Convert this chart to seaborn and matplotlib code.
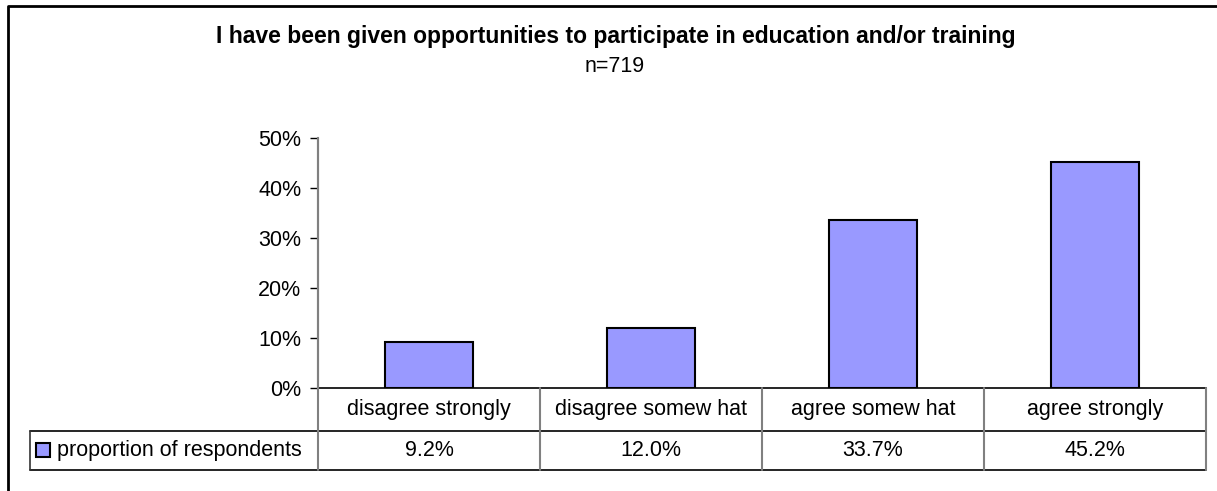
import matplotlib
matplotlib.use("Agg")
import matplotlib.pyplot as plt
from matplotlib.lines import Line2D
from matplotlib.patches import Rectangle
from matplotlib.ticker import PercentFormatter
import seaborn as sns
import pandas as pd

# Survey responses
categories = ["disagree strongly", "disagree somew hat", "agree somew hat", "agree strongly"]
proportions = [9.2, 12.0, 33.7, 45.2]
series_name = "proportion of respondents"
title = "I have been given opportunities to participate in education and/or training"
subtitle = "n=719"
y_ticks = [0, 10, 20, 30, 40, 50]

sns.set_theme(style="white")
plt.rcParams["font.family"] = ["Liberation Sans", "DejaVu Sans"]

W, H = 1217, 491
fig = plt.figure(figsize=(W / 100, H / 100), dpi=100)
fig.patch.set_facecolor("white")

def fx(px):
    return px / W

def fy(py):
    return 1 - py / H

bar_color = "#9999ff"
grid_gray = "#808080"
label_size = 15.5

# Plot area: 0% at y=388, 50% at y=138, spanning x=318..1206
x0, x1 = 318, 1206
y0, y50 = 388, 138
ax = fig.add_axes([fx(x0), fy(y0), fx(x1 - x0), (y0 - y50) / H])
df = pd.DataFrame({"category": categories, "value": proportions})
sns.barplot(data=df, x="category", y="value", color=bar_color, width=0.4,
            saturation=1, edgecolor="black", linewidth=1.5, ax=ax)
ax.set_xlim(-0.5, len(categories) - 0.5)
ax.set_ylim(0, 50)
ax.set_yticks(y_ticks)
ax.yaxis.set_major_formatter(PercentFormatter(decimals=0))
ax.set_xticks([])
ax.set_xlabel("")
ax.set_ylabel("")
ax.tick_params(axis="y", direction="out", length=6, width=1, color="black",
               labelsize=label_size, labelcolor="black", pad=6, left=True)
for s in ["top", "right"]:
    ax.spines[s].set_visible(False)
ax.spines["left"].set_color(grid_gray)
ax.spines["left"].set_linewidth(1.5)
ax.spines["bottom"].set_color("black")
ax.spines["bottom"].set_linewidth(1.2)
ax.set_facecolor("white")

# Data table below the axis
row1_top, row1_bot, row2_bot = 388, 431, 470
table_left = 30
col_w = (x1 - x0) / len(categories)

def hline(y, xa, xb, color="black", lw=1.2):
    fig.add_artist(Line2D([fx(xa), fx(xb)], [fy(y), fy(y)], color=color, lw=lw,
                          transform=fig.transFigure))

def vline(x, ya, yb, color=grid_gray, lw=1.5):
    fig.add_artist(Line2D([fx(x), fx(x)], [fy(ya), fy(yb)], color=color, lw=lw,
                          transform=fig.transFigure))

hline(row1_bot, table_left, x1)
hline(row2_bot, table_left, x1)
vline(x0, y50, row2_bot)
vline(table_left, row1_bot, row2_bot, color="#333333", lw=1.2)
for i in range(1, len(categories) + 1):
    vline(x0 + i * col_w, row1_top, row2_bot)

for i, (cat, val) in enumerate(zip(categories, proportions)):
    cx = x0 + (i + 0.5) * col_w
    fig.text(fx(cx), fy((row1_top + row1_bot) / 2), cat, ha="center", va="center",
             fontsize=label_size, color="black")
    fig.text(fx(cx), fy((row1_bot + row2_bot) / 2), f"{val:.1f}%", ha="center",
             va="center", fontsize=label_size, color="black")

# Legend key inside the table row
fig.add_artist(Rectangle((fx(36), fy(457)), fx(14), 14 / H, facecolor=bar_color,
                         edgecolor="black", lw=1.5, transform=fig.transFigure))
fig.text(fx(57), fy((row1_bot + row2_bot) / 2), series_name, ha="left", va="center",
         fontsize=label_size, color="black")

# Titles
fig.text(fx(616), fy(37), title, ha="center", va="center", fontsize=16.5,
         fontweight="bold", color="black")
fig.text(fx(615), fy(66), subtitle, ha="center", va="center", fontsize=15.5,
         color="black")

# Chart frame
fig.add_artist(Line2D([fx(8), fx(8), fx(W + 5)], [fy(H + 5), fy(6), fy(6)],
                      color="black", lw=2, transform=fig.transFigure))

fig.savefig("out.png", dpi=100, facecolor="white")
